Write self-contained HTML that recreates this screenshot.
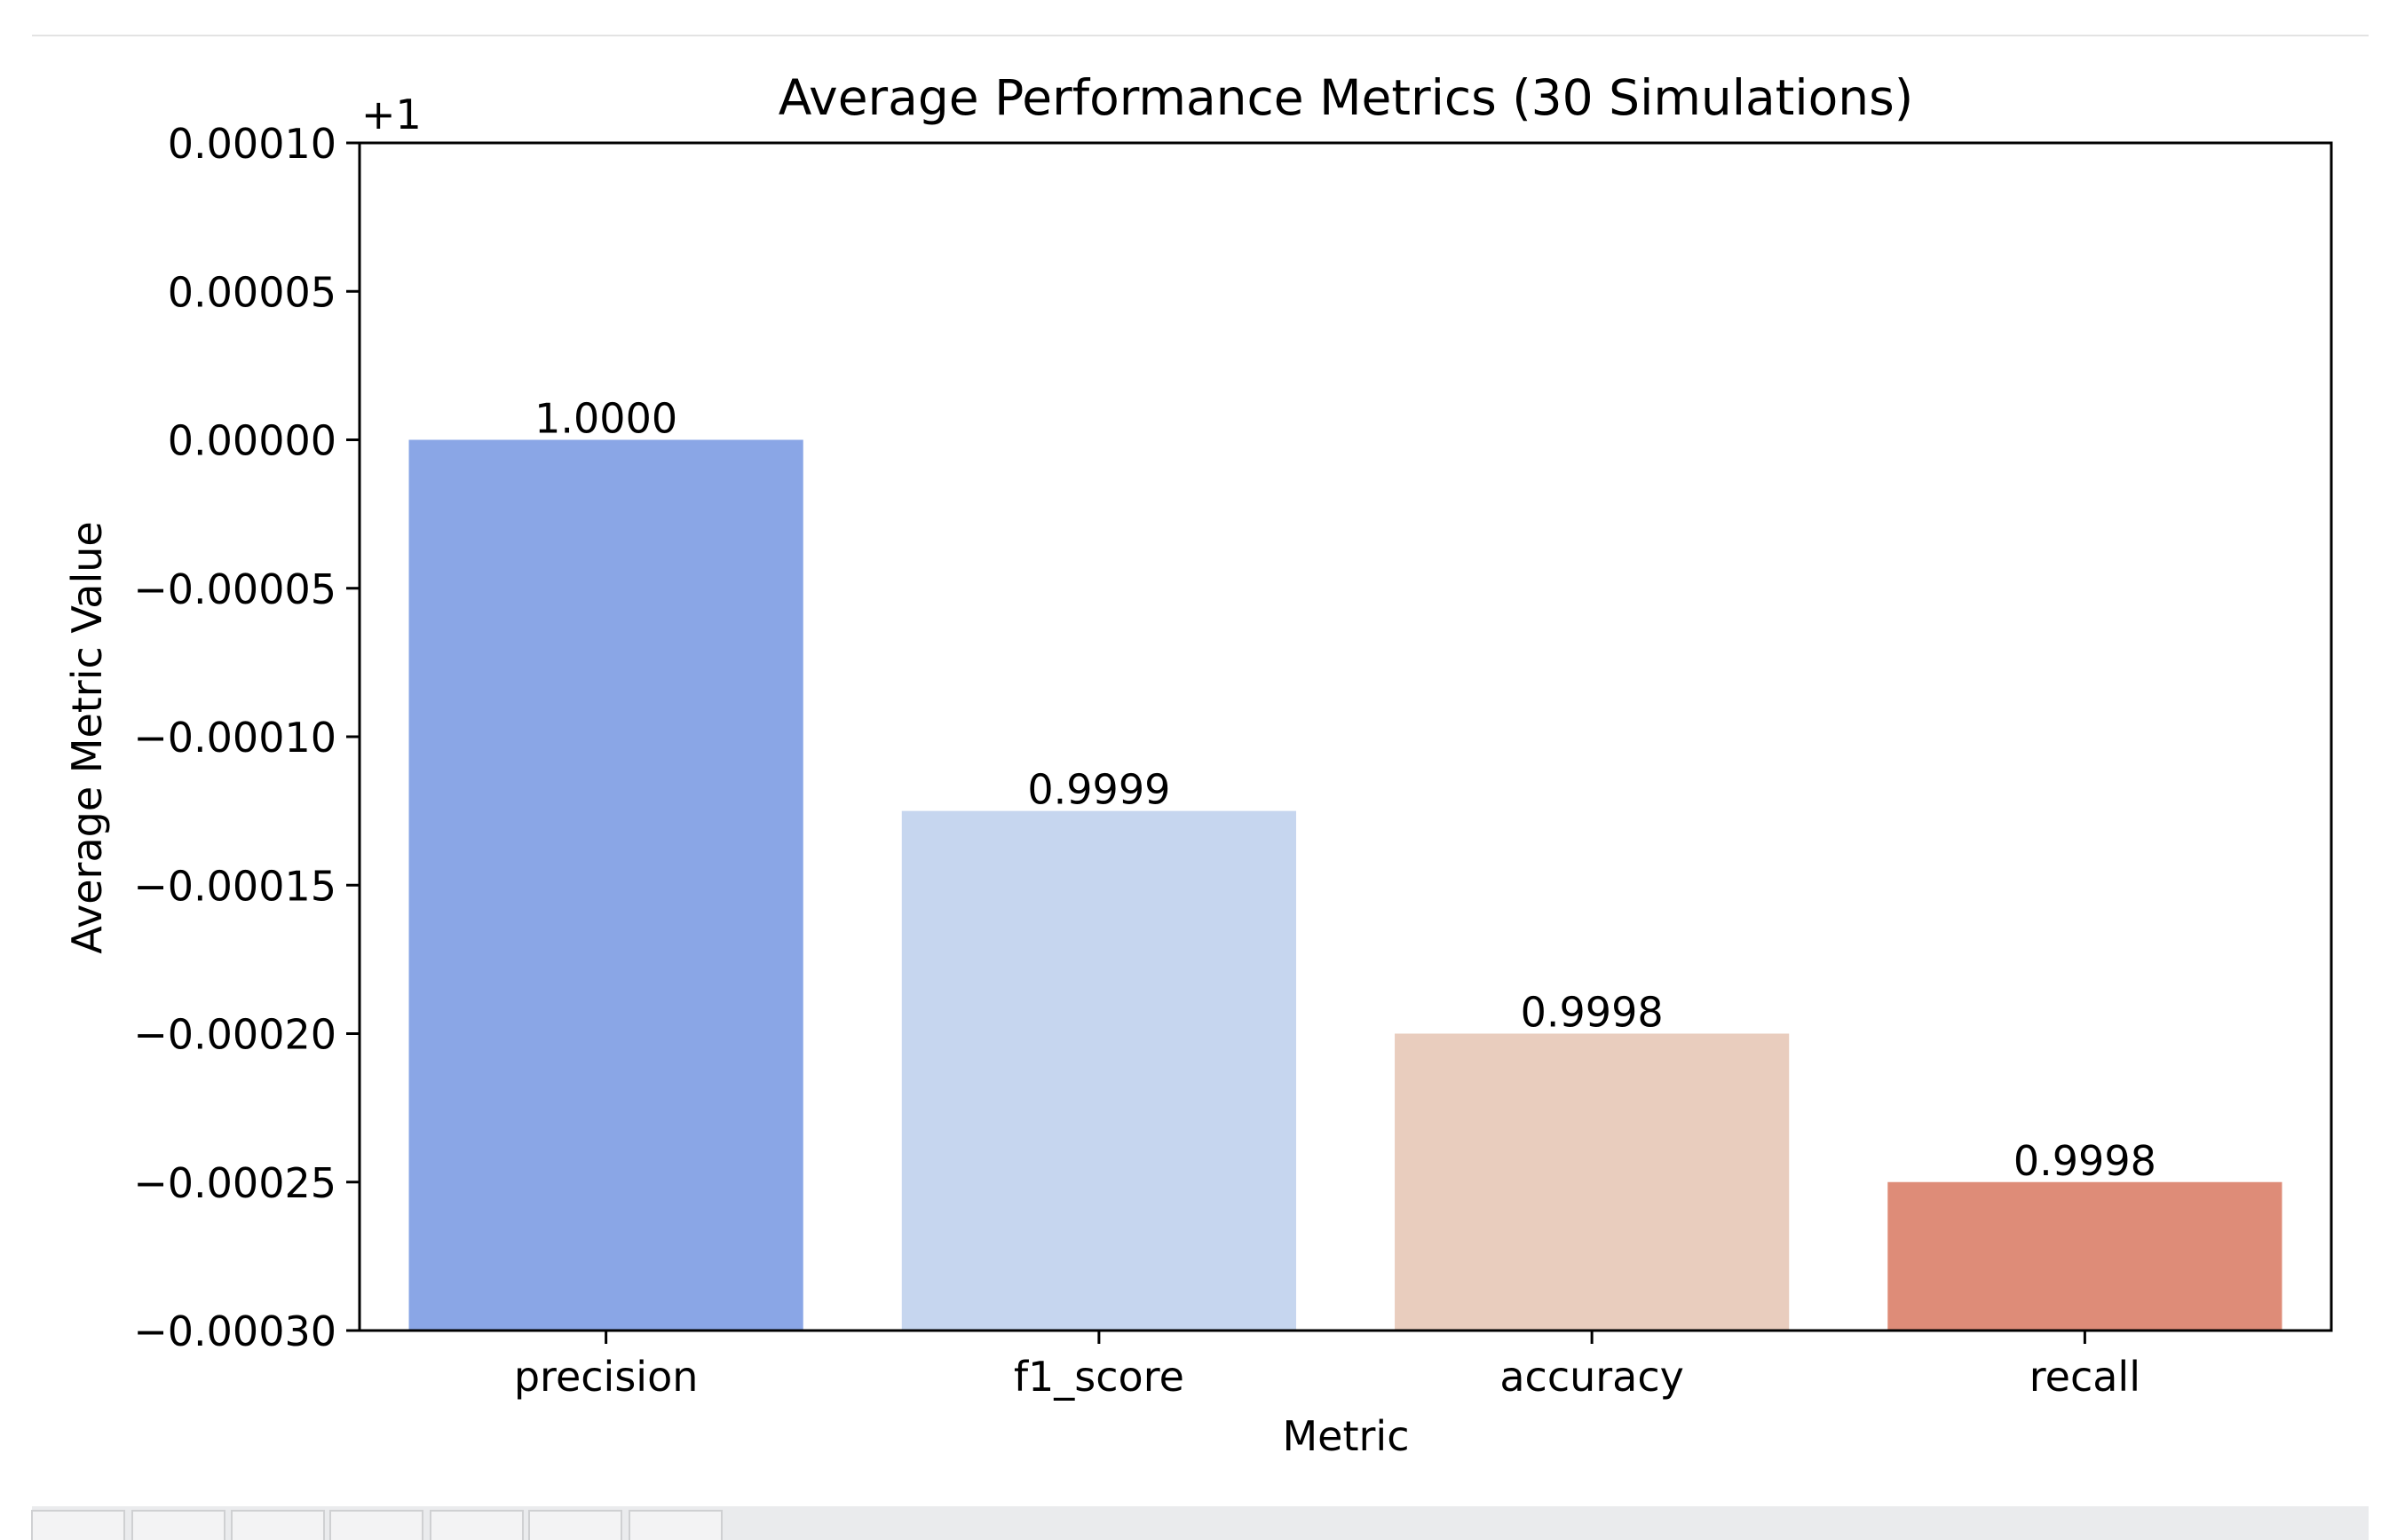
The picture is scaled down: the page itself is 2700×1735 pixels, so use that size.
<!DOCTYPE html>
<html><head><meta charset="utf-8"><style>
html,body{margin:0;padding:0;background:#fff;}
svg{display:block;font-family:"DejaVu Sans","Liberation Sans",sans-serif;}
</style></head><body>
<svg id="chart" width="2700" height="1735" viewBox="0 0 2700 1735" xmlns="http://www.w3.org/2000/svg">
<rect x="36" y="39" width="2632" height="2" fill="#e3e3e3"/>
<rect x="36" y="1697" width="2632" height="38" fill="#eaebed"/>
<g id="tabs"></g>
<text x="1516" y="129" font-size="55" text-anchor="middle" fill="#000">Average Performance Metrics (30 Simulations)</text>
<text x="407" y="145" font-size="46" fill="#000">+1</text>
<g id="bars"></g>
<g id="yticks"></g>
<g id="xticks"></g>
<rect x="405" y="161" width="2221" height="1338" fill="none" stroke="#000" stroke-width="3"/>
<text transform="translate(114,831) rotate(-90)" font-size="46" text-anchor="middle" fill="#000">Average Metric Value</text>
<text x="1516" y="1634" font-size="46" text-anchor="middle" fill="#000">Metric</text>
</svg>
<script>
const categories = ["precision", "f1_score", "accuracy", "recall"];
const values = [1.0, 0.999875, 0.9998, 0.99975];
const valueLabels = ["1.0000", "0.9999", "0.9998", "0.9998"];
const colors = ["#8aa6e6", "#c6d6ef", "#e9cdbe", "#de8c78"];
const yTicks = [0.0001, 0.00005, 0, -0.00005, -0.0001, -0.00015, -0.0002, -0.00025, -0.0003];
const yTickLabels = ["0.00010", "0.00005", "0.00000", "\u22120.00005", "\u22120.00010", "\u22120.00015", "\u22120.00020", "\u22120.00025", "\u22120.00030"];
const yOffset = 1;

const NS = "http://www.w3.org/2000/svg";
const L = 405, R = 2626, T = 161, B = 1499;
const yMin = -0.0003, yMax = 0.0001;
function y(v){ return B - ((v - yOffset) - yMin) / (yMax - yMin) * (B - T); }
const band = (R - L) / categories.length;
function xc(i){ return L + band * (i + 0.5); }
function mk(tag, attrs, parent){ const e = document.createElementNS(NS, tag); for (const k in attrs) e.setAttribute(k, attrs[k]); parent.appendChild(e); return e; }

const gb = document.getElementById("bars");
categories.forEach((c, i) => {
  const w = band * 0.8, top = y(values[i]);
  const r = mk("rect", {x: xc(i) - w/2, y: top, width: w, height: B - top, fill: colors[i]}, gb);
  
  
  const t = mk("text", {x: xc(i), y: top - 8, "font-size": 46, "text-anchor": "middle", fill: "#000"}, gb);
  t.textContent = valueLabels[i];
  
  
});
const gy = document.getElementById("yticks");
yTicks.forEach((v, i) => {
  const yy = y(v + yOffset);
  const l = mk("line", {x1: L - 15, x2: L, y1: yy, y2: yy, stroke: "#000", "stroke-width": 3}, gy);
  
  
  const t = mk("text", {x: L - 26, y: yy + 17, "font-size": 46, "text-anchor": "end", fill: "#000"}, gy);
  t.textContent = yTickLabels[i];
  
  
});
const gx = document.getElementById("xticks");
categories.forEach((c, i) => {
  const l = mk("line", {x1: xc(i), x2: xc(i), y1: B, y2: B + 15, stroke: "#000", "stroke-width": 3}, gx);
  
  
  const t = mk("text", {x: xc(i), y: B + 68, "font-size": 46, "text-anchor": "middle", fill: "#000"}, gx);
  t.textContent = c;
  
  
});
const gt = document.getElementById("tabs");
[36,149,261,372,485,596,709].forEach(x0 => {
  const r = mk("rect", {x: x0, y: 1702, width: 104, height: 40, fill: "#f3f3f4", stroke: "#cfd0d2", "stroke-width": 2}, gt);
  
  
});
</script>
</body></html>
